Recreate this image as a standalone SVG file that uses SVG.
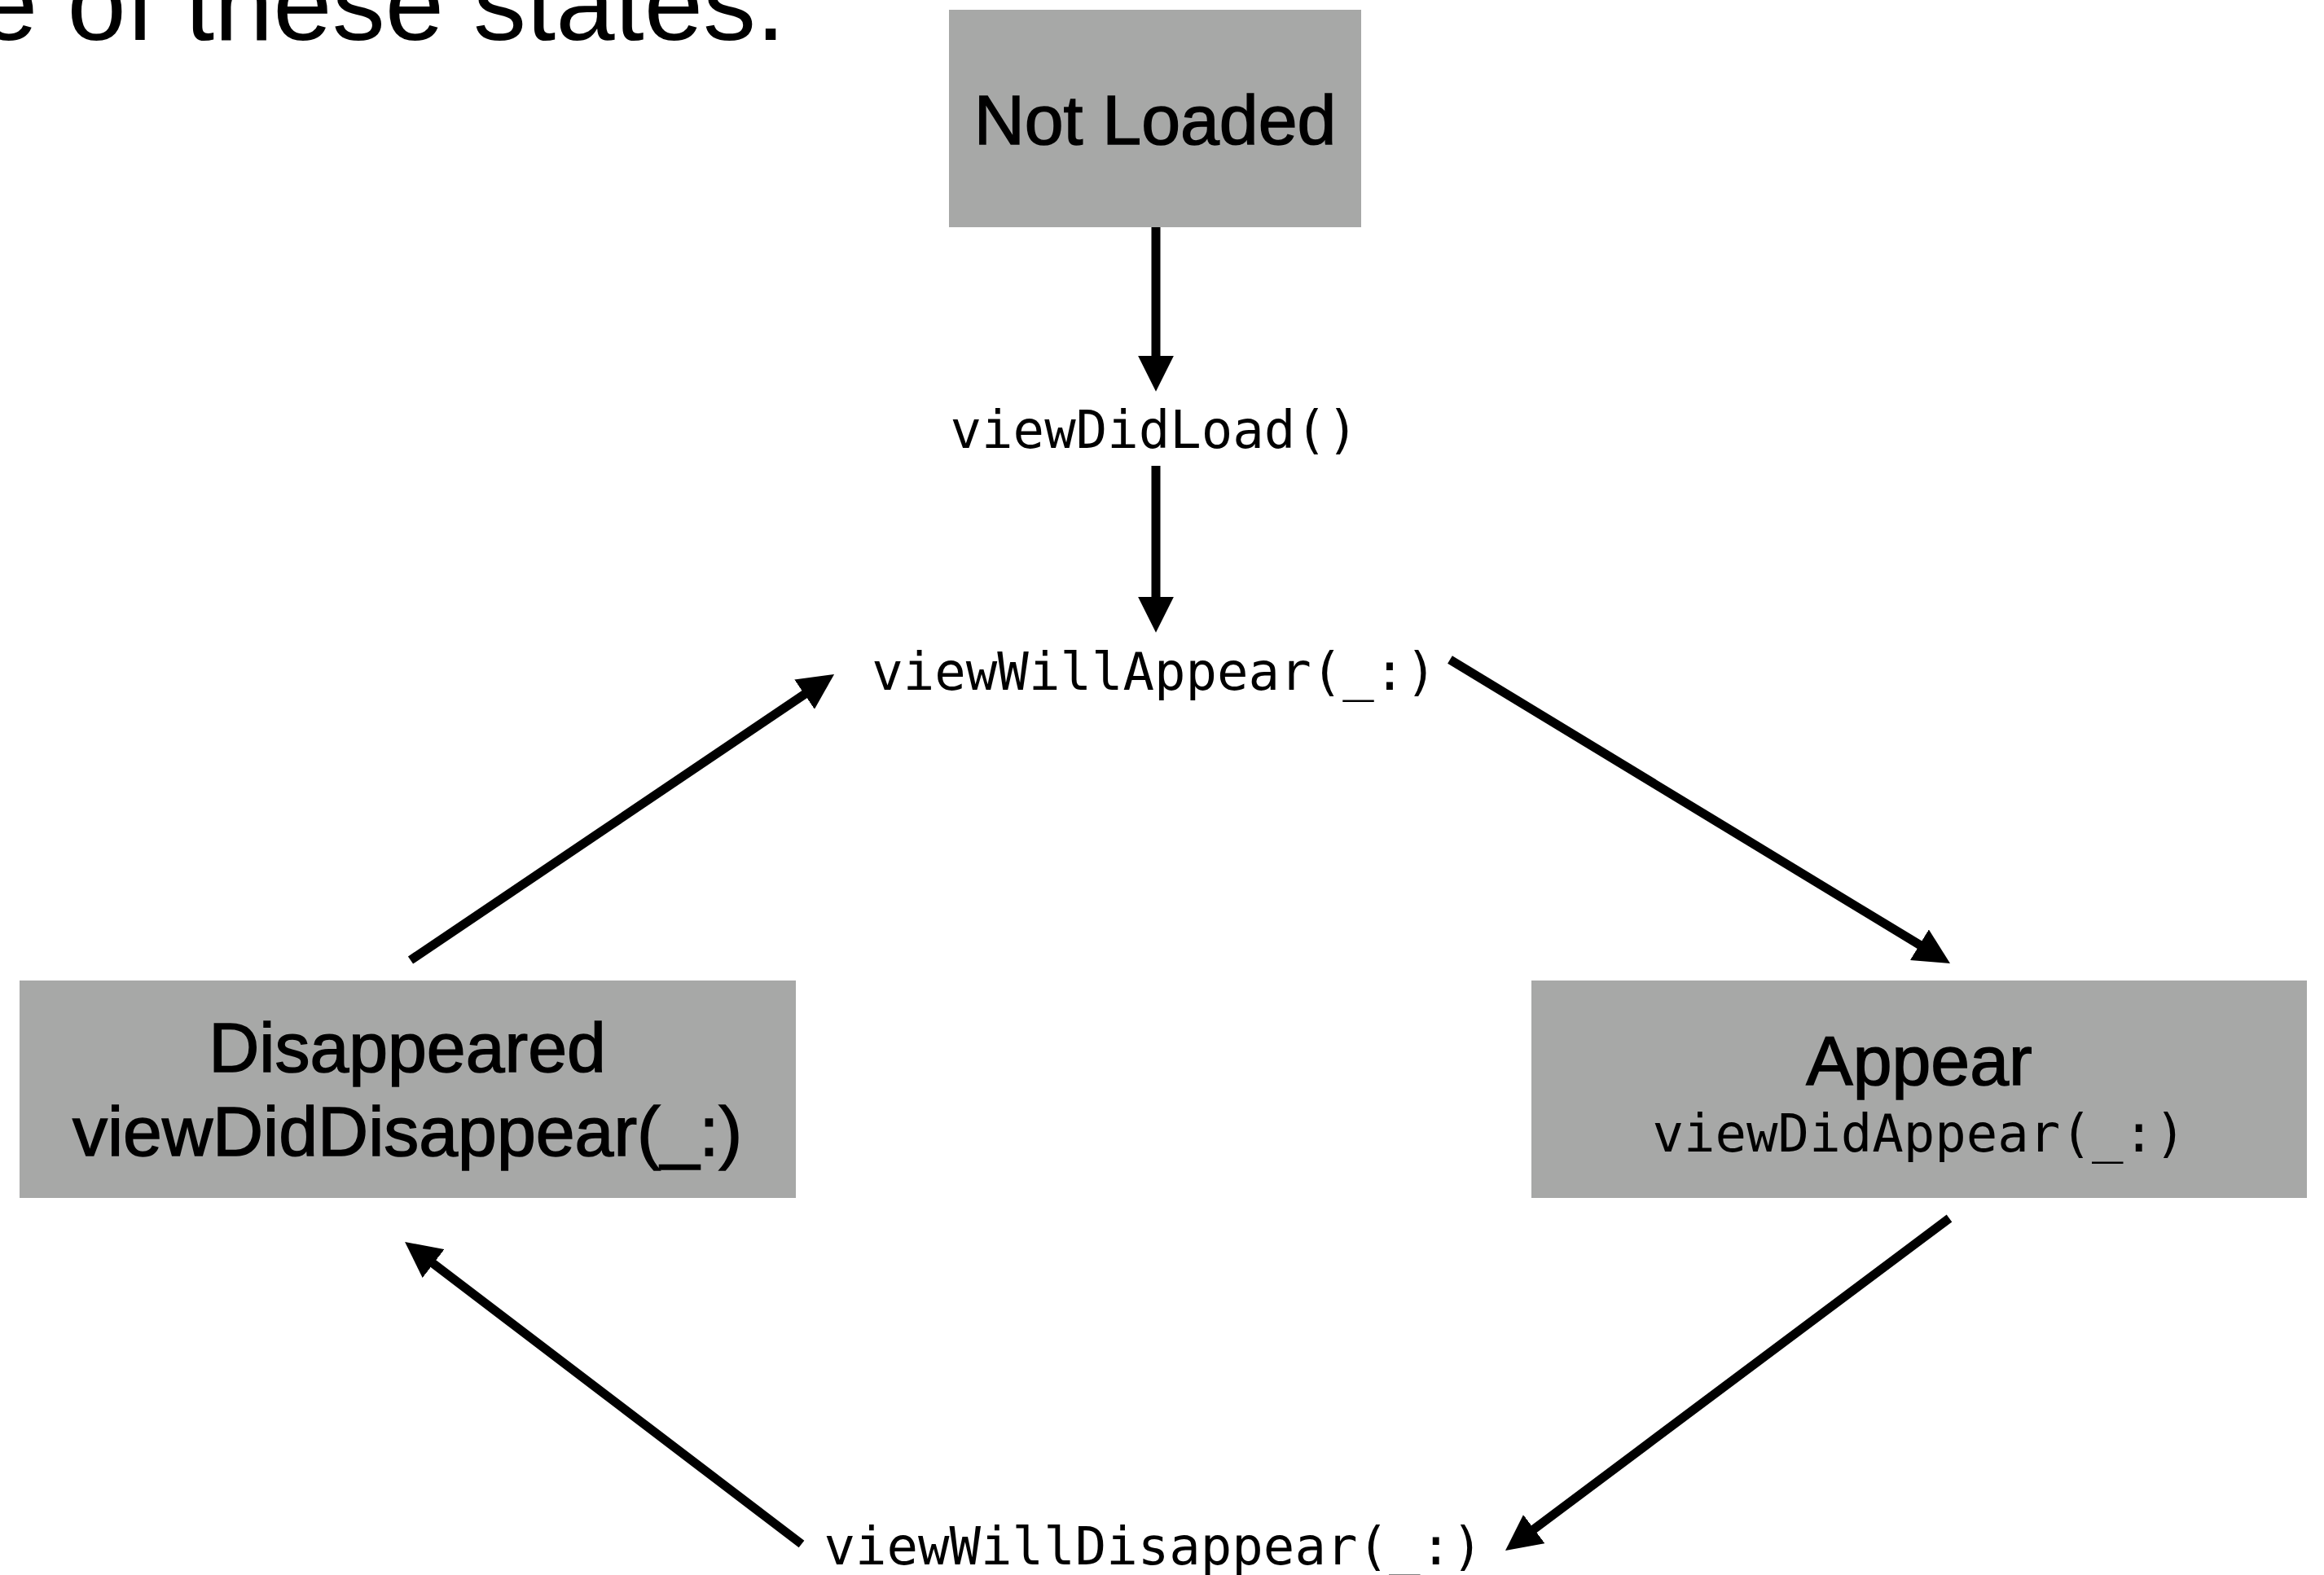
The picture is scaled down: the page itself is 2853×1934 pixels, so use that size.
<svg xmlns="http://www.w3.org/2000/svg" width="2853" height="1934" viewBox="0 0 2853 1934">
<style>
.box{fill:#a7a8a7}
.lbl{font-family:"Liberation Sans",Arial,Helvetica,sans-serif;font-size:86px;fill:#000;stroke:#000;stroke-width:1.5;text-anchor:middle}
.mono{font-family:"DejaVu Sans Mono","Liberation Mono",monospace;font-size:64px;fill:#000;text-anchor:middle}
.edge{stroke:#000;stroke-width:11;fill:none;marker-end:url(#ah)}
</style>
<defs>
<marker id="ah" viewBox="0 0 4 4" refX="0.2" refY="2" markerWidth="4" markerHeight="4" markerUnits="strokeWidth" orient="auto">
<path d="M0,0 L4,2 L0,4 Z" fill="#000"/>
</marker>
</defs>
<rect width="2853" height="1934" fill="#fff"/>
<text x="-26" y="49" font-family="Liberation Sans,Arial,sans-serif" font-size="130" fill="#000">e of these states.</text>
<g id="not-loaded">
<rect class="box" x="1165" y="12" width="506" height="267"/>
<text class="lbl" x="1418" y="177">Not Loaded</text>
</g>
<g id="view-did-load">
<text class="mono" x="1417" y="550">viewDidLoad()</text>
</g>
<g id="view-will-appear">
<text class="mono" x="1417" y="847">viewWillAppear(_:)</text>
</g>
<g id="appear">
<rect class="box" x="1880" y="1204" width="952" height="267"/>
<text class="lbl" x="2356" y="1332">Appear</text>
<text class="mono" x="2356" y="1414">viewDidAppear(_:)</text>
</g>
<g id="disappeared">
<rect class="box" x="24" y="1204" width="953" height="267"/>
<text class="lbl" x="500" y="1316">Disappeared</text>
<text class="lbl" x="500" y="1419">viewDidDisappear(_:)</text>
</g>
<g id="view-will-disappear">
<text class="mono" x="1416" y="1921">viewWillDisappear(_:)</text>
</g>
<g id="connectors">
<line class="edge" x1="1419" y1="279" x2="1419" y2="439"/>
<line class="edge" x1="1419" y1="572" x2="1419" y2="735"/>
<line class="edge" x1="1780" y1="810" x2="2358.3" y2="1161.3"/>
<line class="edge" x1="2393" y1="1496" x2="1881.5" y2="1878.9"/>
<line class="edge" x1="984" y1="1896" x2="530.3" y2="1550.3"/>
<line class="edge" x1="504" y1="1179" x2="989.4" y2="851.4"/>
</g>
</svg>
